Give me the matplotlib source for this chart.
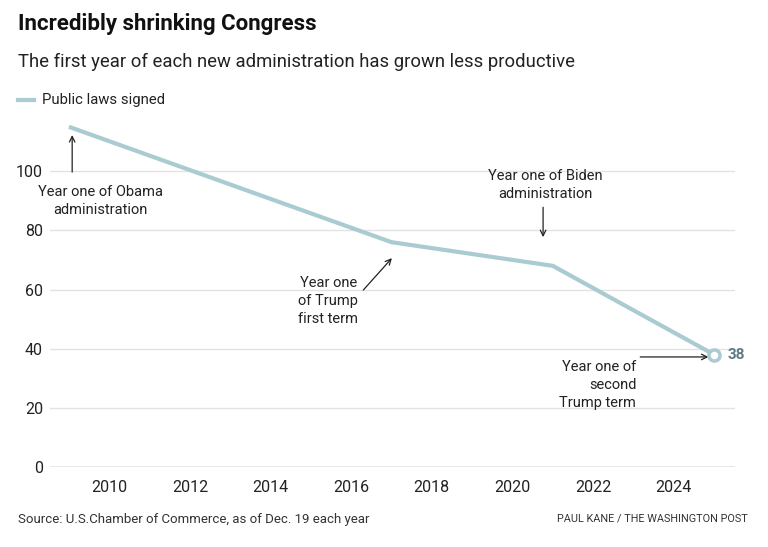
import matplotlib
matplotlib.use("Agg")
import matplotlib.pyplot as plt

years = [2009, 2017, 2021, 2025]
laws = [115, 76, 68, 38]
yticks = [0, 20, 40, 60, 80, 100]
xticks = [2010, 2012, 2014, 2016, 2018, 2020, 2022, 2024]

NARROW = ['Roboto', 'DejaVu Sans']
REG = ['Roboto', 'DejaVu Sans']

LINE = '#a9cbd1'
TXT = '#222222'

fig = plt.figure(figsize=(7.68, 5.47), dpi=100)
ax = fig.add_axes([50/768, 1-467/547, (735-50)/768, (467-112)/547])
ax.set_xlim(2008.53, 2025.52)
ax.set_ylim(0, 120)

for v in yticks[1:]:
    ax.axhline(v, color='#e3e3e3', lw=1, zorder=0)
ax.axhline(0, color='#8a8a8a', lw=1, zorder=1)
for s in ax.spines.values():
    s.set_visible(False)

ax.plot(years, laws, color=LINE, lw=3, solid_capstyle='butt', zorder=3)
ax.plot([years[-1]], [laws[-1]], marker='o', ms=8, mfc='white', mec=LINE, mew=2.5, zorder=4)
ax.text(years[-1] + 0.33, laws[-1], str(laws[-1]), fontsize=11, fontweight='bold',
        color='#5c7a84', va='center', ha='left', family=REG)

ax.set_yticks(yticks)
ax.set_xticks(xticks)
ax.tick_params(axis='x', length=0, labelsize=11.5, colors=TXT, pad=9)
ax.tick_params(axis='y', length=0, labelsize=11.5, colors=TXT, pad=5)
for lab in ax.get_xticklabels() + ax.get_yticklabels():
    lab.set_family(NARROW)
    lab.set_color(TXT)

ap = dict(arrowstyle='->', color='#222222', lw=0.9, shrinkA=0, shrinkB=0)
fs = 10.5
ls = 1.4
# Obama
ax.text(2009.79, 89.9, 'Year one of Obama\nadministration', ha='center', va='center',
        fontsize=fs, color=TXT, family=REG, linespacing=ls)
ax.annotate('', xy=(2009.08, 112.2), xytext=(2009.08, 99.7), arrowprops=ap)
# Biden
ax.text(2020.81, 95.3, 'Year one of Biden\nadministration', ha='center', va='center',
        fontsize=fs, color=TXT, family=REG, linespacing=ls)
ax.annotate('', xy=(2020.76, 77.7), xytext=(2020.76, 87.8), arrowprops=ap)
# Trump first
ax.text(2015.43, 56.1, 'Year one\nof Trump\nfirst term', ha='center', va='center',
        fontsize=fs, color=TXT, family=REG, linespacing=ls)
ax.annotate('', xy=(2017.01, 70.6), xytext=(2016.3, 59.8), arrowprops=ap)
# Trump second
ax.text(2023.07, 27.7, 'Year one of\nsecond\nTrump term', ha='right', va='center',
        fontsize=fs, color=TXT, family=REG, linespacing=ls)
ax.annotate('', xy=(2024.86, 37.2), xytext=(2023.17, 37.2), arrowprops=ap)

fig.text(18/768, 1-24/547, 'Incredibly shrinking Congress', fontsize=16, fontweight='bold',
         color='#111111', family=NARROW, va='center', ha='left')
fig.text(18/768, 1-62/547, 'The first year of each new administration has grown less productive',
         fontsize=13.3, color='#222222', family=NARROW, va='center', ha='left')
fig.add_artist(plt.Line2D([18/768, 34/768], [1-100/547, 1-100/547], color=LINE, lw=3,
                          transform=fig.transFigure))
fig.text(42/768, 1-100/547, 'Public laws signed', fontsize=10.7, color='#222222',
         family=NARROW, va='center', ha='left')
fig.text(18/768, 1-519/547, 'Source: U.S.Chamber of Commerce, as of Dec. 19 each year',
         fontsize=9.5, color='#333333', family=NARROW, va='center', ha='left')
fig.text(748/768, 1-519/547, 'PAUL KANE / THE WASHINGTON POST',
         fontsize=7.8, color='#333333', family=NARROW, va='center', ha='right')

fig.savefig('out.png', dpi=100)
